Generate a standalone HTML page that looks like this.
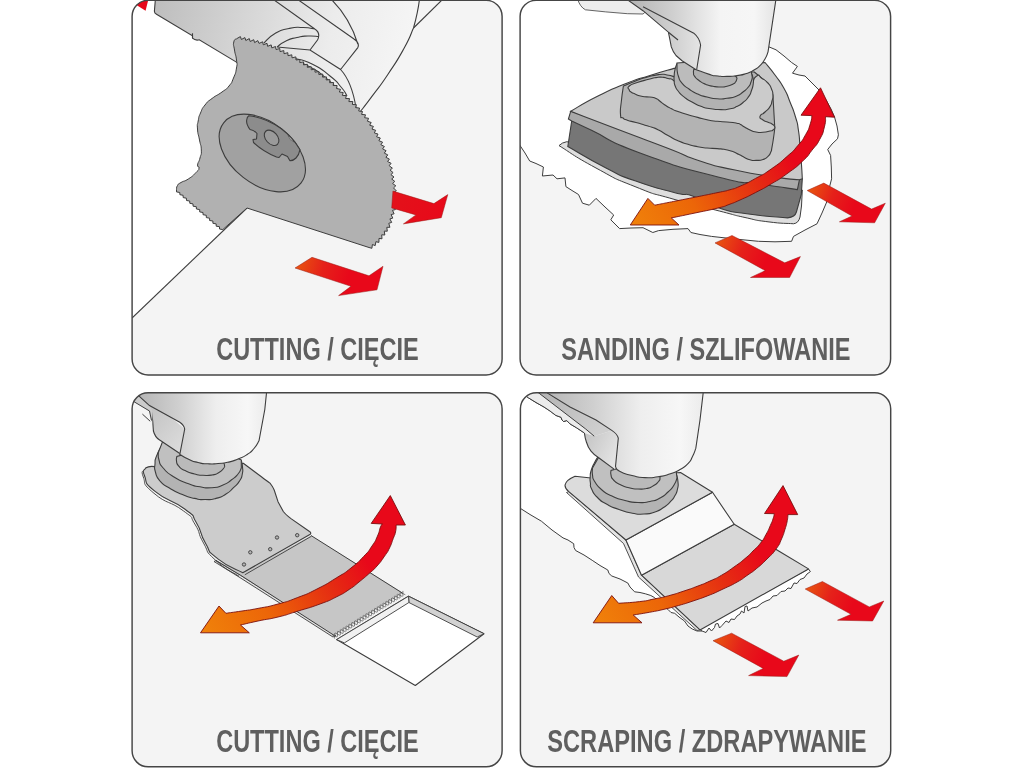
<!DOCTYPE html>
<html><head><meta charset="utf-8"><title>Multi-tool applications</title>
<style>
html,body{margin:0;padding:0;background:#fff;}
body{width:1024px;height:768px;overflow:hidden;font-family:"Liberation Sans",sans-serif;}
svg{display:block;will-change:transform;}
</style></head><body>
<svg width="1024" height="768" viewBox="0 0 1024 768">
<defs>
<clipPath id="cp1"><rect x="132.1" y="0.3" width="370.0" height="374.6" rx="16" ry="16"/></clipPath>
<clipPath id="cp2"><rect x="520.1" y="0.3" width="370.5" height="374.6" rx="16" ry="16"/></clipPath>
<clipPath id="cp3"><rect x="132.1" y="392.8" width="370.0" height="374.0" rx="16" ry="16"/></clipPath>
<clipPath id="cp4"><rect x="520.4" y="392.8" width="370.3" height="374.0" rx="16" ry="16"/></clipPath>
<linearGradient id="g1body" gradientUnits="userSpaceOnUse" x1="150" y1="0" x2="405" y2="60"><stop offset="0" stop-color="#bcbcbc"/><stop offset="0.35" stop-color="#d4d4d4"/><stop offset="0.7" stop-color="#ececec"/><stop offset="1" stop-color="#f5f5f5"/></linearGradient>
<linearGradient id="g1a" gradientUnits="userSpaceOnUse" x1="392" y1="195" x2="448" y2="215"><stop offset="0" stop-color="#e3121a"/><stop offset="1" stop-color="#e8081a"/></linearGradient>
<linearGradient id="g1b" gradientUnits="userSpaceOnUse" x1="297" y1="262" x2="383" y2="285"><stop offset="0" stop-color="#e8540f"/><stop offset="0.3" stop-color="#e5211a"/><stop offset="0.6" stop-color="#e8081a"/><stop offset="1" stop-color="#e8081a"/></linearGradient>
<linearGradient id="g2body" gradientUnits="userSpaceOnUse" x1="630" y1="0" x2="776" y2="0"><stop offset="0" stop-color="#b4b4b4"/><stop offset="0.3" stop-color="#d0d0d0"/><stop offset="0.62" stop-color="#f4f4f4"/><stop offset="0.85" stop-color="#f6f6f6"/><stop offset="1" stop-color="#e4e4e4"/></linearGradient>
<linearGradient id="g2c" gradientUnits="userSpaceOnUse" x1="630" y1="225" x2="820" y2="120"><stop offset="0" stop-color="#f0820a"/><stop offset="0.3" stop-color="#ec6608"/><stop offset="0.6" stop-color="#e52d12"/><stop offset="0.8" stop-color="#e8081a"/><stop offset="1" stop-color="#e8081a"/></linearGradient>
<linearGradient id="g2a" gradientUnits="userSpaceOnUse" x1="810" y1="186" x2="885" y2="215"><stop offset="0" stop-color="#e8540f"/><stop offset="0.3" stop-color="#e5211a"/><stop offset="0.6" stop-color="#e8081a"/><stop offset="1" stop-color="#e8081a"/></linearGradient>
<linearGradient id="g2b" gradientUnits="userSpaceOnUse" x1="718" y1="238" x2="800" y2="270"><stop offset="0" stop-color="#e8540f"/><stop offset="0.3" stop-color="#e5211a"/><stop offset="0.6" stop-color="#e8081a"/><stop offset="1" stop-color="#e8081a"/></linearGradient>
<linearGradient id="g3body" gradientUnits="userSpaceOnUse" x1="140" y1="0" x2="267" y2="0"><stop offset="0" stop-color="#b6b6b6"/><stop offset="0.3" stop-color="#cfcfcf"/><stop offset="0.6" stop-color="#eeeeee"/><stop offset="0.85" stop-color="#f7f7f7"/><stop offset="1" stop-color="#ebebeb"/></linearGradient>
<linearGradient id="g3lp" gradientUnits="userSpaceOnUse" x1="138" y1="400" x2="185" y2="440"><stop offset="0" stop-color="#bcbcbc"/><stop offset="1" stop-color="#dadada"/></linearGradient>
<linearGradient id="g3c" gradientUnits="userSpaceOnUse" x1="200" y1="630" x2="395" y2="520"><stop offset="0" stop-color="#f0820a"/><stop offset="0.3" stop-color="#ec6608"/><stop offset="0.6" stop-color="#e52d12"/><stop offset="0.8" stop-color="#e8081a"/><stop offset="1" stop-color="#e8081a"/></linearGradient>
<linearGradient id="g4arm" gradientUnits="userSpaceOnUse" x1="540" y1="393" x2="596" y2="436"><stop offset="0" stop-color="#b4b4b4"/><stop offset="1" stop-color="#cfcfcf"/></linearGradient>
<linearGradient id="g4lp" gradientUnits="userSpaceOnUse" x1="585" y1="440" x2="618" y2="455"><stop offset="0" stop-color="#c6c6c6"/><stop offset="1" stop-color="#e4e4e4"/></linearGradient>
<linearGradient id="g4body" gradientUnits="userSpaceOnUse" x1="545" y1="0" x2="704" y2="0"><stop offset="0" stop-color="#b6b6b6"/><stop offset="0.3" stop-color="#cfcfcf"/><stop offset="0.6" stop-color="#eeeeee"/><stop offset="0.85" stop-color="#f7f7f7"/><stop offset="1" stop-color="#ebebeb"/></linearGradient>
<linearGradient id="g4c" gradientUnits="userSpaceOnUse" x1="593" y1="622" x2="788" y2="510"><stop offset="0" stop-color="#f0820a"/><stop offset="0.3" stop-color="#ec6608"/><stop offset="0.6" stop-color="#e52d12"/><stop offset="0.8" stop-color="#e8081a"/><stop offset="1" stop-color="#e8081a"/></linearGradient>
<linearGradient id="g4a" gradientUnits="userSpaceOnUse" x1="808" y1="585" x2="884" y2="615"><stop offset="0" stop-color="#e8540f"/><stop offset="0.3" stop-color="#e5211a"/><stop offset="0.6" stop-color="#e8081a"/><stop offset="1" stop-color="#e8081a"/></linearGradient>
<linearGradient id="g4b" gradientUnits="userSpaceOnUse" x1="716" y1="637" x2="799" y2="668"><stop offset="0" stop-color="#e8540f"/><stop offset="0.3" stop-color="#e5211a"/><stop offset="0.6" stop-color="#e8081a"/><stop offset="1" stop-color="#e8081a"/></linearGradient>
</defs>
<rect width="1024" height="768" fill="#fff"/>
<g clip-path="url(#cp1)"><rect x="132.1" y="-1.7" width="370.0" height="376.6" fill="#fff"/>
<path d="M132.0,318.0 L247.0,208.0 L413.5,28.0 L419.0,-1.0 L503.0,-1.0 L503.0,376.0 L132.0,376.0 Z" fill="#f4f4f4"/>
<path d="M132,318 L247,208" stroke="#3d3d3d" stroke-width="1.1" fill="none"/>
<path d="M413.5,28 L443,-1" stroke="#3d3d3d" stroke-width="1.1" fill="none"/>
<path d="M155.4,-1 L154.4,11 Q154.3,13 156.5,14.3 L192.5,35.8 L192.5,38.2 Q195.5,41 199.3,39.8 L236.4,62.1 L300,120 L360,112 C364.2,106.6 363.2,108.3 372.5,95.7 C381.8,83.1 377.6,89.8 388.0,74.2 C398.4,58.6 395.2,64.2 403.8,48.8 C412.2,33.4 410.2,34.9 413.5,28.0 Q418,12 419.5,-1 Z" fill="url(#g1body)" stroke="#3d3d3d" stroke-width="1.1"/>
<path d="M192.5,33.2 L192.5,38.2" stroke="#3d3d3d" stroke-width="1.1" fill="none"/>
<path d="M272.7,-1 L314.8,29 Q321,33 317.5,40 L310,50 M297,-1 L354,39 Q360,43 357.8,47.6 L340.6,69.5 M331,-1 Q350,18 357.8,44 M264.0,43.0 C267.7,39.8 266.7,38.3 275.0,33.5 C283.3,28.7 279.7,30.5 289.0,28.5 C298.3,26.5 294.4,27.3 303.0,27.5 C311.6,27.7 310.9,28.5 314.8,29.0 M277.0,47.0 C280.0,45.0 279.3,44.2 286.0,41.0 C292.7,37.8 289.7,39.2 297.0,37.5 C304.3,35.8 300.8,36.3 308.0,36.0 C315.2,35.7 315.0,36.3 318.5,36.5 M277,47 L310,50 L340.6,69.5 Q352,82 356,108 M295.0,58.6 C300.7,60.4 300.3,58.2 312.0,64.0 C323.7,69.8 320.3,68.3 330.0,76.0 C339.7,83.7 335.3,80.3 341.0,87.0 C346.7,93.7 345.0,93.0 347.0,96.0 M292.0,60.5 C298.0,62.7 298.3,60.8 310.0,67.0 C321.7,73.2 317.7,71.3 327.0,79.0 C336.3,86.7 332.7,83.7 338.0,90.0 C343.3,96.3 341.3,95.3 343.0,98.0" fill="none" stroke="#3d3d3d" stroke-width="1.1"/>
<path d="M134,3.5 L148.5,-1 L145.6,10.7 Z" fill="#e8081a"/>
<path d="M237,38.5 L237.0,38.5 L240.4,36.6 L241.4,39.5 L244.9,37.6 L245.8,40.5 L249.3,38.6 L250.2,41.5 L253.7,39.7 L254.6,42.6 L257.8,40.6 L259.0,43.4 L262.7,41.8 L263.3,44.8 L267.0,43.3 L267.6,46.3 L271.2,44.9 L271.8,47.9 L275.5,46.5 L276.0,49.5 L279.8,48.5 L280.0,51.6 L283.8,50.6 L284.0,53.7 L287.8,52.7 L288.0,55.7 L291.8,54.8 L292.0,57.8 L295.9,56.9 L296.0,60.0 L299.9,59.4 L299.8,62.5 L303.6,61.9 L303.5,64.9 L307.4,64.3 L307.3,67.4 L311.2,66.7 L311.2,69.8 L315.0,69.1 L315.0,72.2 L318.9,71.5 L318.8,74.5 L322.8,74.1 L322.5,77.1 L326.5,76.9 L326.1,79.9 L330.0,79.7 L329.6,82.7 L333.6,82.5 L333.1,85.5 L337.1,85.5 L336.6,88.5 L340.6,89.4 L339.3,92.0 L343.2,92.5 L342.4,95.4 L346.3,95.6 L345.6,98.5 L349.5,98.6 L348.9,101.6 L352.8,101.5 L352.4,104.5 L356.4,104.7 L355.6,107.6 L359.6,108.1 L358.7,111.0 L362.5,111.5 L361.6,114.4 L365.5,114.8 L364.6,117.7 L368.6,118.3 L367.4,121.2 L371.2,122.5 L369.7,125.2 L373.4,126.4 L372.0,129.1 L375.7,130.3 L374.3,132.9 L378.0,134.1 L376.6,136.8 L380.3,138.0 L378.9,140.7 L382.6,142.2 L380.9,144.7 L384.4,146.5 L382.6,148.9 L386.1,150.7 L384.3,153.1 L387.8,154.9 L385.9,157.3 L389.4,159.1 L387.6,161.5 L391.1,163.3 L389.2,165.7 L392.4,168.2 L390.1,170.1 L393.1,172.6 L390.9,174.6 L394.0,177.0 L391.7,179.0 L394.8,181.4 L392.6,183.5 L395.8,185.8 L393.5,187.9 L396.3,190.8 L393.6,192.4 L396.2,195.4 L393.5,196.9 L396.1,199.8 L393.5,201.4 L396.1,204.3 L393.6,205.9 L395.4,209.6 L392.5,210.3 L394.1,213.8 L391.1,214.6 L392.8,218.1 L389.9,218.9 L391.7,222.4 L388.8,223.3 L389.9,227.3 L386.8,227.3 L387.3,231.2 L384.3,231.1 L384.8,235.0 L381.7,234.8 L382.0,238.8 L379.0,238.4 L378.9,242.4 L375.9,241.7 L375.2,245.6 L372.4,244.5 L371.9,248.3 L369.0,247.5 L247,208 L222.8,229.6 L222.8,229.6 L219.5,229.0 L219.5,226.7 L216.2,226.2 L216.2,223.9 L212.9,223.3 L212.9,221.0 L209.6,220.5 L209.6,218.2 L206.3,217.6 L206.3,215.3 L203.0,214.7 L203.0,212.5 L199.7,211.9 L199.7,209.6 L196.4,209.0 L196.3,206.7 L193.1,206.2 L193.0,203.9 L189.8,203.3 L189.7,201.0 L186.5,200.5 L186.4,198.2 L183.2,197.6 L183.1,195.3 L179.9,194.7 L179.8,192.5 L176.5,191.9 L176.5,189.6 C176.8,188.2 176.0,187.9 177.5,185.5 C179.0,183.1 177.3,184.7 181.0,182.5 C184.7,180.3 183.6,182.1 188.6,178.8 C193.6,175.5 192.5,176.1 196.0,172.5 C199.5,168.9 198.5,170.5 199.0,168.0 C199.5,165.5 197.3,168.3 197.6,165.0 C197.9,161.7 198.8,163.0 200.0,158.0 C201.2,153.0 201.5,156.0 201.3,150.0 C201.1,144.0 200.8,147.0 199.5,140.0 C198.2,133.0 197.9,135.3 197.5,129.0 C197.1,122.7 197.2,126.3 198.2,121.0 C199.2,115.7 198.2,118.3 200.5,113.0 C202.8,107.7 201.2,109.8 205.0,105.0 C208.8,100.2 206.3,102.8 212.0,98.5 C217.7,94.2 216.3,96.2 222.0,92.0 C227.7,87.8 225.2,90.7 229.0,86.0 C232.8,81.3 231.0,84.0 233.5,78.0 C236.0,72.0 235.5,74.0 236.5,68.0 C237.5,62.0 237.2,66.0 236.5,60.0 C235.8,54.0 235.4,56.0 234.5,50.0 C233.6,44.0 233.0,45.8 233.8,42.0 C234.6,38.2 235.9,39.7 237.0,38.5 Z" fill="#b1b1b1" stroke="#3d3d3d" stroke-width="1.0" stroke-linejoin="round"/>
<ellipse cx="262.3" cy="153" rx="49" ry="31" transform="rotate(38 262.3 153)" fill="#a1a1a1" stroke="#3d3d3d" stroke-width="1.1"/>
<path d="M248.8,115.8 Q264,117 281,128.5 Q293,137.5 300,149.7 Q299,155 296,158 Q293,161 289.8,160.6 L287.5,156.5 L282,154 L279,157.5 L276.5,157 Q263,151.5 253.5,142.5 L253,139.5 L256.5,139 L257,133.5 Q254,130 250,129.5 Q246,124 246.7,120 Q247,117 248.8,115.8 Z" fill="#8c8c8c" stroke="#3d3d3d" stroke-width="1.1" stroke-linejoin="round"/>
<ellipse cx="271.6" cy="137.8" rx="8.8" ry="5.9" transform="rotate(48 271.6 137.8)" fill="#9a9a9a" stroke="#3d3d3d" stroke-width="1.1"/>
<path d="M288,135.5 Q291,137.5 294,142 Q289,140 288,135.5 Z" fill="#b9b9b9" stroke="#3d3d3d" stroke-width="0.5"/>
<path d="M392.9,191.1 L433.9,203.6 L447.8,194.6 L441.3,217.7 L403.4,223.9 L415.9,214.9 L391.7,207.9 Z" fill="url(#g1a)" stroke="#9a1a16" stroke-width="0.5"/>
<path d="M312.0,257.3 L369.0,275.8 L383.0,266.3 L377.0,289.8 L338.6,295.6 L351.0,286.3 L295.0,268.0 Z" fill="url(#g1b)" stroke="#9a1a16" stroke-width="0.5"/>
<text x="216.15" y="360.0" font-family="Liberation Sans, sans-serif" font-weight="bold" font-size="30.8" fill="#5f5f5f" textLength="202.60" lengthAdjust="spacingAndGlyphs">CUTTING / CIĘCIE</text></g>
<rect x="132.1" y="0.3" width="370.0" height="374.6" rx="16" ry="16" fill="none" stroke="#454545" stroke-width="1.45"/>
<g clip-path="url(#cp2)"><rect x="520.1" y="-1.7" width="370.5" height="376.6" fill="#f4f4f4"/>
<path d="M519,-2 L776,-2 L769.0,46.9 L776.0,49.8 L784.0,56.0 L791.6,62.5 L797.4,66.4 L792.5,73.2 L799.0,75.0 L805.0,76.0 L810.0,81.0 L815.0,86.0 L819.0,90.0 L826.0,100.0 L831.0,109.0 L834.5,117.0 L837.0,126.0 L838.4,134.8 L837.5,138.8 L832.0,144.0 L827.7,149.5 L830.6,155.4 L831.3,167.0 L831.6,178.8 L829.6,186.6 L826.7,202.0 L822.0,213.0 L817.0,223.8 L805.0,230.0 L793.5,236.4 L791.6,241.3 L775.0,241.8 L758.4,241.3 L735.0,239.0 L711.5,236.4 L700.0,234.5 L690.9,232.5 L688.0,228.6 L673.0,229.3 L658.6,230.6 L652.8,232.5 L643.0,227.7 L631.0,228.0 L619.6,228.6 L610.8,219.8 L613.7,215.0 L605.0,207.0 L596.0,198.4 L589.3,205.2 L582.5,203.2 L578.5,194.5 L572.0,190.5 L565.9,186.6 L565.0,177.9 L557.0,178.8 L553.0,175.0 L542.4,176.0 L543.4,167.0 L536.0,163.5 L529.7,161.0 L525.0,153.0 L519.0,144.0 Z" fill="#fff"/>
<path d="M769.0,46.9 L776.0,49.8 L784.0,56.0 L791.6,62.5 L797.4,66.4 L792.5,73.2 L799.0,75.0 L805.0,76.0 L810.0,81.0 L815.0,86.0 L819.0,90.0 L826.0,100.0 L831.0,109.0 L834.5,117.0 L837.0,126.0 L838.4,134.8 L837.5,138.8 L832.0,144.0 L827.7,149.5 L830.6,155.4 L831.3,167.0 L831.6,178.8 L829.6,186.6 L826.7,202.0 L822.0,213.0 L817.0,223.8 L805.0,230.0 L793.5,236.4 L791.6,241.3 L775.0,241.8 L758.4,241.3 L735.0,239.0 L711.5,236.4 L700.0,234.5 L690.9,232.5 L688.0,228.6 L673.0,229.3 L658.6,230.6 L652.8,232.5 L643.0,227.7 L631.0,228.0 L619.6,228.6 L610.8,219.8 L613.7,215.0 L605.0,207.0 L596.0,198.4 L589.3,205.2 L582.5,203.2 L578.5,194.5 L572.0,190.5 L565.9,186.6 L565.0,177.9 L557.0,178.8 L553.0,175.0 L542.4,176.0 L543.4,167.0 L536.0,163.5 L529.7,161.0 L525.0,153.0 L519.0,144.0" fill="none" stroke="#3d3d3d" stroke-width="1.0" stroke-linejoin="round"/>
<path d="M559,145.6 Q562,142.5 566.8,141.7 L700,170 L802.3,190 L801.5,206 L800,217 Q798.5,223.3 793.5,223.75 C785.0,223.1 784.2,223.9 768.0,221.8 C751.8,219.7 761.2,221.1 745.0,217.5 C728.8,213.9 743.0,217.1 719.3,211.0 C695.6,204.9 702.1,207.4 674.0,199.3 C645.9,191.2 661.0,197.0 635.0,186.6 C609.0,176.2 621.3,181.7 596.0,168.0 C570.7,154.3 571.3,153.1 559.0,145.6 Z" fill="#dedede" stroke="#3d3d3d" stroke-width="1.0"/>
<path d="M571.7,121 L567.8,146.6 C580.5,153.7 583.6,156.6 606.0,168.0 C628.4,179.4 612.3,172.6 635.0,180.8 C657.7,189.0 654.4,187.3 674.0,192.5 C693.6,197.7 678.7,191.2 693.8,196.4 C708.9,201.6 701.0,202.1 719.3,208.0 C737.6,213.9 725.8,210.7 748.6,214.0 C771.4,217.3 774.7,216.6 787.7,217.9 Q795,217 796.4,212 L801.3,194.5 L802.3,178.8 L700,150 Z" fill="#767676" stroke="#3d3d3d" stroke-width="1.1"/>
<path d="M568.4,119 L571.7,121 C578.5,124.2 569.2,119.8 592.0,130.5 C614.8,141.2 598.0,137.5 640.0,153.0 C682.0,168.5 678.0,166.7 718.0,177.0 C758.0,187.3 733.5,179.8 760.0,184.0 C786.5,188.2 784.9,187.7 797.4,189.6 L799.4,179.8 L760,160 L570.7,111.3 Z" fill="#a9a9a9" stroke="#3d3d3d" stroke-width="1.1"/>
<path d="M570.7,111.3 C579.8,106.2 579.1,105.4 598.0,96.0 C616.9,86.6 610.1,89.8 627.4,83.0 C644.7,76.2 634.5,80.4 650.0,75.5 C665.5,70.6 666.0,70.8 674.0,68.4 L765,62.5 C768.3,66.7 768.8,66.5 775.0,75.0 C781.2,83.5 778.8,79.0 783.8,88.0 C788.8,97.0 786.1,92.3 790.0,102.0 C793.9,111.7 792.7,107.7 795.5,117.0 C798.3,126.3 796.9,120.2 798.4,130.0 C799.9,139.8 799.0,134.8 800.0,146.5 C801.0,158.2 800.7,154.2 801.5,165.0 C802.3,175.8 802.0,174.2 802.3,178.8 L799.4,179.8 C790.9,178.8 795.5,180.2 774.0,176.9 C752.5,173.6 759.7,175.3 735.0,170.0 C710.3,164.7 722.2,168.2 700.0,161.0 C677.8,153.8 695.2,158.7 668.4,148.4 C641.6,138.1 652.1,142.4 619.5,130.0 C586.9,117.6 587.0,117.5 570.7,111.3 Z" fill="#c9c9c9" stroke="#3d3d3d" stroke-width="1.1"/>
<path d="M623.4,86.0 C622.8,90.7 622.5,90.5 621.5,100.0 C620.5,109.5 620.0,108.5 620.5,114.5 C621.0,120.5 620.7,116.1 623.0,118.0 C625.3,119.9 623.0,118.8 627.3,120.3 C631.6,121.8 630.1,120.9 636.0,122.5 C641.9,124.1 639.7,123.6 645.0,125.2 C650.3,126.8 647.5,125.7 652.0,127.3 C656.5,128.9 653.3,127.3 658.6,130.0 C663.9,132.7 661.5,131.9 668.0,135.5 C674.5,139.1 671.3,137.9 678.0,140.8 C684.7,143.7 681.4,142.3 688.0,144.3 C694.6,146.3 691.4,145.5 697.7,146.7 C704.0,147.9 700.5,147.4 707.0,148.0 C713.5,148.6 711.2,148.1 717.2,148.6 C723.2,149.1 719.8,148.5 725.0,149.5 C730.2,150.5 728.1,149.9 732.8,151.6 C737.5,153.3 735.1,152.6 739.0,154.5 C742.9,156.4 740.8,155.6 744.5,157.4 C748.2,159.2 746.1,158.8 750.0,159.8 C753.9,160.8 751.9,160.5 756.2,160.4 C760.6,160.3 759.1,160.8 763.0,159.5 C766.9,158.2 765.4,158.9 768.0,156.4 C770.6,153.9 769.5,154.9 770.8,152.0 C772.1,149.1 771.0,152.4 771.9,147.7 C772.8,143.0 772.5,144.6 773.5,138.0 C774.5,131.4 774.4,131.3 774.8,128.0 L772.9,95 L768,83.2 L754.3,72 L676,72 L675.0,77.0 C672.3,76.3 672.5,75.8 667.0,75.0 C661.5,74.2 665.6,73.8 658.6,74.6 C651.6,75.4 653.9,75.3 646.0,77.5 C638.1,79.7 642.5,78.4 635.0,81.2 C627.5,84.1 627.3,84.4 623.4,86.0 Z" fill="#b3b3b3" stroke="#3d3d3d" stroke-width="1.1" stroke-linejoin="round"/>
<path d="M629.3,86.0 C632.2,83.4 631.5,84.5 638.0,82.3 C644.5,80.1 642.8,80.9 648.8,79.3 C654.8,77.7 651.4,78.3 656.0,77.6 C660.6,76.9 658.5,77.0 662.5,77.3 C666.5,77.6 664.1,77.3 668.0,78.5 C671.9,79.7 669.5,77.2 674.2,81.0 C678.9,84.8 673.4,84.3 682.0,90.0 C690.6,95.7 684.0,95.3 700.0,98.0 C716.0,100.7 714.0,101.3 730.0,98.0 C746.0,94.7 739.3,95.2 748.0,88.0 C756.7,80.8 751.3,79.7 756.0,76.5 C760.7,73.3 758.0,76.3 762.0,78.5 C766.0,80.7 764.8,79.7 768.0,83.2 C771.2,86.7 769.9,85.1 771.5,89.0 C773.1,92.9 772.7,91.0 772.9,95.0 C773.1,99.0 773.0,97.1 772.0,101.0 C771.0,104.9 772.3,102.9 770.0,106.6 C767.7,110.3 768.3,108.7 765.0,112.0 C761.7,115.3 760.7,113.7 760.0,116.4 C759.3,119.1 760.3,118.0 763.0,120.0 C765.7,122.0 765.0,121.0 768.0,122.3 C771.0,123.6 769.7,122.4 772.0,124.0 C774.3,125.6 774.5,125.0 774.8,127.0 C775.1,129.0 774.6,128.7 773.0,130.0 C771.4,131.3 773.3,130.2 770.0,131.0 C766.7,131.8 767.7,132.0 763.0,132.3 C758.3,132.6 760.3,132.8 756.0,132.0 C751.7,131.2 753.8,131.7 750.0,130.0 C746.2,128.3 747.7,128.8 744.5,127.0 C741.3,125.2 743.1,125.8 740.5,124.5 C737.9,123.2 741.2,124.0 736.7,123.2 C732.2,122.4 733.5,122.6 727.0,122.0 C720.5,121.4 723.9,122.0 717.2,121.3 C710.5,120.6 713.5,121.1 707.0,119.8 C700.5,118.5 704.0,119.1 697.7,117.4 C691.4,115.7 694.6,116.8 688.0,114.8 C681.4,112.8 683.7,113.6 678.0,111.5 C672.3,109.4 675.5,110.8 671.0,108.5 C666.5,106.2 668.2,107.1 664.5,104.7 C660.8,102.3 662.6,103.3 660.0,101.3 C657.4,99.3 659.3,100.1 656.6,98.8 C653.9,97.5 655.2,97.9 652.0,97.3 C648.8,96.7 650.7,97.3 646.9,96.9 C643.1,96.5 644.5,97.0 640.5,96.0 C636.5,95.0 638.2,95.3 635.0,94.0 C631.8,92.7 632.9,93.3 631.0,92.0 C629.1,90.7 629.9,92.0 629.3,90.0 C628.7,88.0 626.4,88.6 629.3,86.0 Z" fill="#cbcbcb" stroke="#3d3d3d" stroke-width="1.1" stroke-linejoin="round"/>
<path d="M677.0,63.7 C676.3,65.6 675.9,65.6 675.0,69.5 C674.1,73.4 674.5,71.6 674.2,75.4 C673.9,79.2 673.9,77.5 674.2,81.0 C674.5,84.5 673.8,82.5 675.2,86.0 C676.6,89.5 675.6,87.9 678.5,91.5 C681.4,95.1 679.5,93.4 684.0,96.9 C688.5,100.4 686.1,98.8 692.0,102.0 C697.9,105.2 695.3,104.3 701.6,106.6 C707.9,108.9 704.5,107.8 711.0,108.8 C717.5,109.8 715.0,109.5 721.0,109.6 C727.0,109.7 723.8,110.0 729.0,109.0 C734.2,108.0 732.0,108.8 736.7,106.6 C741.4,104.4 739.1,105.7 743.0,102.5 C746.9,99.3 745.6,100.9 748.4,96.9 C751.2,92.9 749.9,95.1 751.5,90.5 C753.1,85.9 752.8,87.4 753.3,83.2 C753.8,79.0 753.6,81.3 753.0,78.0 C752.4,74.7 751.9,74.9 751.4,73.4 L735,62 Z" fill="#b2b2b2" stroke="#3d3d3d" stroke-width="1.1"/>
<path d="M677.0,69.5 C677.5,71.8 676.8,71.9 678.5,76.5 C680.2,81.1 678.5,79.0 682.0,83.2 C685.5,87.4 683.8,85.4 689.0,89.0 C694.2,92.6 691.7,91.3 697.7,94.0 C703.7,96.7 700.5,95.4 707.0,97.0 C713.5,98.6 710.5,98.4 717.2,98.8 C723.9,99.2 720.5,99.2 727.0,98.3 C733.5,97.4 731.4,98.1 736.7,96.0 C742.0,93.9 739.1,95.0 743.0,92.0 C746.9,89.0 745.7,90.3 748.4,87.0 C751.1,83.7 749.7,85.2 751.0,82.0 C752.3,78.8 751.9,78.9 752.3,77.3 L751,70 L720,60 L677,63 Z" fill="#bcbcbc" stroke="#3d3d3d" stroke-width="1.1"/>
<path d="M693.8,69.5 C693.7,70.7 693.2,70.7 693.5,73.0 C693.8,75.3 692.9,73.9 694.7,76.4 C696.5,78.9 695.4,77.9 699.0,80.5 C702.6,83.1 700.8,82.3 705.5,84.2 C710.2,86.1 707.8,85.4 713.0,86.3 C718.2,87.2 716.3,87.0 721.0,87.0 C725.7,87.0 723.1,87.2 727.0,86.3 C730.9,85.4 730.0,85.6 732.8,84.2 C735.6,82.8 734.2,83.6 735.5,82.0 C736.8,80.4 736.3,80.7 736.7,79.3 C737.1,77.9 737.1,78.8 736.8,77.8 C736.5,76.8 736.1,76.9 735.7,76.4 L720,66 Z" fill="#b0b0b0" stroke="#3d3d3d" stroke-width="1.1"/>
<path d="M577.6,-1 Q580,7 585.4,9.8 Q605,12 627.4,13.7 L643,14 L660,-1 Z" fill="#ededed" stroke="#3d3d3d" stroke-width="0.8"/>
<path d="M626.4,-1 L643,10.7 L668.4,32.2 Q670,40 671.3,46.9 Q673,52 676,55.5 L682,60.7 L695.7,69.5 C700.3,71.1 702.0,72.2 709.4,74.4 C716.8,76.6 712.1,75.3 718.0,76.0 C723.9,76.7 720.7,76.5 727.0,76.4 C733.3,76.3 730.5,76.6 737.0,75.6 C743.5,74.6 740.8,75.3 746.5,73.4 C752.2,71.5 749.5,72.6 754.0,70.0 C758.5,67.4 756.3,69.3 760.0,65.6 C763.7,61.9 762.3,63.5 765.0,59.0 C767.7,54.5 767.0,54.3 768.0,52.0 L776,-1 Z" fill="url(#g2body)" stroke="#3d3d3d" stroke-width="1.1"/>
<path d="M643,6.8 L693.8,33.2 Q699.5,38 700.6,45 L696.7,69.5" fill="none" stroke="#3d3d3d" stroke-width="1.1"/>
<path d="M668.4,32.2 L678,40" fill="none" stroke="#3d3d3d" stroke-width="1.1"/>
<path d="M630.3,225 L647.9,198.4 L654.7,205.2 C665.1,203.1 664.9,203.2 686.0,199.0 C707.1,194.8 703.7,195.5 718.0,192.5 C732.3,189.5 721.7,192.1 729.0,190.0 C736.3,187.9 731.1,190.1 740.0,186.2 C748.9,182.4 745.2,184.2 755.6,178.4 C766.0,172.7 760.8,176.3 771.2,169.0 C781.7,161.7 778.0,164.4 786.9,156.6 C795.8,148.8 791.6,152.9 797.8,145.6 C804.0,138.3 801.4,142.0 805.6,134.7 C809.8,127.4 808.2,130.1 810.3,123.8 C812.4,117.4 811.4,118.3 811.9,115.6 L801,115.2 L820.5,87.8 L834.5,117.2 L825.6,116.7 C825.2,120.1 826.4,119.3 824.4,126.9 C822.4,134.5 823.9,131.6 819.7,139.4 C815.5,147.2 817.6,143.0 811.9,150.3 C806.2,157.6 810.8,153.4 802.5,161.2 C794.2,169.1 797.3,166.2 786.9,173.8 C776.5,181.3 781.7,177.7 771.2,183.9 C760.8,190.2 766.0,187.1 755.6,192.5 C745.2,197.9 748.9,196.0 740.0,200.0 C731.1,204.0 736.3,201.8 729.0,204.5 C721.7,207.2 729.3,205.2 718.0,208.0 C706.7,210.8 710.6,209.7 695.0,213.0 C679.4,216.3 679.2,216.3 671.3,217.9 L679,225 Z" fill="url(#g2c)" stroke="#7a1010" stroke-width="0.9" stroke-linejoin="miter"/>
<path d="M823.8,183.1 L871.6,209.1 L885.3,203.2 L874.6,222.8 L839.4,221.8 L852.0,216.0 L807.2,190.5 Z" fill="url(#g2a)" stroke="#9a1a16" stroke-width="0.5"/>
<path d="M732.0,235.5 L784.7,262.8 L800.4,256.6 L789.6,277.5 L750.5,277.5 L765.2,270.6 L715.0,242.9 Z" fill="url(#g2b)" stroke="#9a1a16" stroke-width="0.5"/>
<text x="561.25" y="360.0" font-family="Liberation Sans, sans-serif" font-weight="bold" font-size="30.8" fill="#5f5f5f" textLength="289.25" lengthAdjust="spacingAndGlyphs">SANDING / SZLIFOWANIE</text></g>
<rect x="520.1" y="0.3" width="370.5" height="374.6" rx="16" ry="16" fill="none" stroke="#454545" stroke-width="1.45"/>
<g clip-path="url(#cp3)"><rect x="132.1" y="390.8" width="370.0" height="376.0" fill="#f4f4f4"/>
<path d="M408.5,596.2 L484,633.7 L415.3,685.5 L336.6,639.6 Z" fill="#fff" stroke="#3d3d3d" stroke-width="1.1" stroke-linejoin="round"/>
<path d="M408.5,596.2 L484,633.7 L477.2,637 L408.9,602.5 Z" fill="#d2d2d2" stroke="#3d3d3d" stroke-width="0.9" stroke-linejoin="round"/>
<path d="M408.5,596.2 L408.9,602.5 L344.4,642.9 L336.6,639.6 Z" fill="#f1f1f1" stroke="#3d3d3d" stroke-width="0.9" stroke-linejoin="round"/>
<path d="M214,561.5 L239,577 L333,637 L336,635.5 L240.5,575.2 L216,560.5 Z" fill="#e2e2e2" stroke="#3d3d3d" stroke-width="0.9"/>
<path d="M216,560.5 L240.5,575.2 L334.3,635.5 L402.6,593.2 L402,592.3 L311,535.5 L242.8,572.8 Z" fill="#c6c6c6"/>
<path d="M334.3,635.5 L240.5,575.2 L216,560.5 M402.6,593.2 L311,535.5" fill="none" stroke="#3d3d3d" stroke-width="1.0" stroke-linejoin="round"/>
<path d="M332.5,634.9 L336.7,636.9 M334.6,638.2 L334.6,633.6 M335.4,633.1 L339.5,635.2 M337.4,636.4 L337.5,631.8 M338.2,631.4 L342.4,633.4 M340.3,634.7 L340.3,630.1 M341.1,629.6 L345.2,631.6 M343.1,632.9 L343.1,628.3 M343.9,627.8 L348.0,629.9 M346.0,631.1 L346.0,626.6 M346.8,626.1 L350.9,628.1 M348.8,629.4 L348.8,624.8 M349.6,624.3 L353.7,626.3 M351.7,627.6 L351.7,623.0 M352.5,622.5 L356.6,624.6 M354.5,625.9 L354.5,621.3 M355.3,620.8 L359.4,622.8 M357.4,624.1 L357.4,619.5 M358.1,619.0 L362.3,621.1 M360.2,622.3 L360.2,617.7 M361.0,617.3 L365.1,619.3 M363.0,620.6 L363.1,616.0 M363.8,615.5 L368.0,617.5 M365.9,618.8 L365.9,614.2 M366.7,613.7 L370.8,615.8 M368.7,617.0 L368.8,612.5 M369.5,612.0 L373.7,614.0 M371.6,615.3 L371.6,610.7 M372.4,610.2 L376.5,612.2 M374.4,613.5 L374.5,608.9 M375.2,608.4 L379.4,610.5 M377.3,611.8 L377.3,607.2 M378.1,606.7 L382.2,608.7 M380.1,610.0 L380.1,605.4 M380.9,604.9 L385.0,607.0 M383.0,608.2 L383.0,603.6 M383.8,603.2 L387.9,605.2 M385.8,606.5 L385.8,601.9 M386.6,601.4 L390.7,603.4 M388.7,604.7 L388.7,600.1 M389.5,599.6 L393.6,601.7 M391.5,602.9 L391.5,598.4 M392.3,597.9 L396.4,599.9 M394.4,601.2 L394.4,596.6 M395.1,596.1 L399.3,598.1 M397.2,599.4 L397.2,594.8 M398.0,594.3 L402.1,596.4 M400.0,597.7 L400.1,593.1 M400.8,592.6 L405.0,594.6 M402.9,595.9 L402.9,591.3" fill="none" stroke="#444" stroke-width="0.65" stroke-linecap="round"/>
<path d="M144.6,469.5 C144.2,472.0 140.2,469.1 143.3,477.0 C146.4,484.9 140.7,482.0 154.0,493.3 C167.3,504.6 169.7,500.6 183.3,510.8 C196.9,521.0 188.1,513.3 194.8,524.0 C201.5,534.7 196.7,531.0 203.5,543.0 C210.3,555.0 203.5,548.9 215.3,560.0 C227.1,571.1 231.1,570.9 239.0,576.3" fill="none" stroke="#3d3d3d" stroke-width="0.9"/>
<path d="M145.6,468 C145.3,470.7 141.3,468.1 144.6,476.0 C147.9,483.9 142.0,480.6 155.4,491.6 C168.8,502.6 171.0,498.6 184.7,509.0 C198.4,519.4 189.5,511.5 196.4,522.8 C203.3,534.1 198.4,531.1 205.4,543.0 C212.4,554.9 205.0,548.7 217.5,558.6 C230.0,568.5 234.4,568.1 242.8,572.8 L310.3,534.2 Q311.5,532.8 309.5,531.5 L291,518.6 Q285.5,514.5 283.3,511.5 L278,501.7 L274.2,490 C273.1,488.2 273.5,487.6 271.0,484.5 C268.5,481.4 272.0,485.0 266.7,480.8 C261.4,476.6 262.8,477.9 255.0,472.0 C247.2,466.1 247.2,466.1 243.3,463.2 L200,475 L157,467 Q149.5,465.3 145.6,468 Z" fill="#cccccc" stroke="#3d3d3d" stroke-width="1.1" stroke-linejoin="round"/>
<path d="M244.8,574.8 L311.3,536.3" fill="none" stroke="#3d3d3d" stroke-width="0.9"/>
<circle cx="244.0" cy="564.5" r="1.7" fill="#b5b5b5" stroke="#3d3d3d" stroke-width="0.9"/>
<circle cx="250.3" cy="552.3" r="1.7" fill="#b5b5b5" stroke="#3d3d3d" stroke-width="0.9"/>
<circle cx="270.2" cy="549.2" r="1.7" fill="#b5b5b5" stroke="#3d3d3d" stroke-width="0.9"/>
<circle cx="277.0" cy="537.5" r="1.7" fill="#b5b5b5" stroke="#3d3d3d" stroke-width="0.9"/>
<circle cx="297.2" cy="535.2" r="1.7" fill="#b5b5b5" stroke="#3d3d3d" stroke-width="0.9"/>
<path d="M161.2,446.6 C159.6,449.9 158.5,450.6 156.4,456.4 C154.3,462.2 155.3,458.8 155.0,464.0 C154.7,469.2 153.7,466.3 155.4,472.0 C157.1,477.7 155.5,475.8 160.0,481.0 C164.5,486.2 162.0,483.4 169.0,487.7 C176.0,492.0 172.5,490.4 181.0,494.0 C189.5,497.6 186.5,496.6 194.5,498.4 C202.5,500.2 197.8,499.5 205.0,499.5 C212.2,499.5 209.0,500.2 216.0,498.4 C223.0,496.6 220.2,497.6 226.0,494.0 C231.8,490.4 229.0,492.0 233.5,487.7 C238.0,483.4 236.6,485.6 239.5,481.0 C242.4,476.4 241.3,478.7 242.3,474.0 C243.3,469.3 242.8,471.6 242.5,467.0 C242.2,462.4 241.7,462.5 241.3,460.3 L200,440 L165,436 Z" fill="#b3b3b3" stroke="#3d3d3d" stroke-width="1.1"/>
<path d="M158.3,452.5 C158.5,455.0 157.4,454.8 159.0,460.0 C160.6,465.2 158.2,462.3 163.2,468.0 C168.2,473.7 165.5,471.8 174.0,477.0 C182.5,482.2 179.9,480.5 188.6,483.8 C197.3,487.0 192.2,485.5 200.0,486.8 C207.8,488.1 204.3,488.3 212.0,487.7 C219.7,487.1 216.5,487.6 223.0,485.0 C229.5,482.4 226.6,483.5 231.6,479.8 C236.6,476.1 234.8,477.9 238.0,474.0 C241.2,470.1 240.2,470.0 241.3,468.0 L241.3,460 L200,440 L164,438 Z" fill="#c0c0c0" stroke="#3d3d3d" stroke-width="1.1"/>
<path d="M176.9,456.4 C176.8,457.9 175.9,457.7 176.5,461.0 C177.1,464.3 176.0,463.0 178.8,466.2 C181.6,469.4 179.8,467.9 185.0,470.5 C190.2,473.1 188.5,472.4 194.5,474.0 C200.5,475.6 197.2,475.0 203.0,475.3 C208.8,475.6 206.7,475.9 212.0,475.0 C217.3,474.1 215.1,474.8 219.0,472.5 C222.9,470.2 221.9,470.3 223.8,468.0 C225.6,465.7 224.5,467.1 224.5,465.5 C224.5,463.9 224.0,464.0 223.8,463.2 L200,450 Z" fill="#bababa" stroke="#3d3d3d" stroke-width="1.1"/>
<path d="M134,392 L138.8,397.8 L151.5,411.5 Q153,421 153.4,431 Q155,437 159.3,439.8 L179.8,453.5 L186,430 L150,400 Z" fill="url(#g3lp)"/>
<path d="M138.8,397.8 L151.5,411.5 Q153,421 153.4,431 Q155,437 159.3,439.8 L179.8,453.5" fill="none" stroke="#3d3d3d" stroke-width="1.1"/>
<path d="M131,391 L138.8,395.9 L149.5,405.6 L152.5,411 L152.2,424 L151.5,420.5 L149.5,411 L134.5,402 L131,400 Z" fill="#cbcbcb"/>
<path d="M132,400.5 L134.5,402 L149.5,411 L151.5,420.5 M142.4,414.1 L150.2,421.25" fill="none" stroke="#3d3d3d" stroke-width="1.0"/>
<path d="M138.8,395.9 L149.5,405.6 L179.8,422.2 Q184,425 184.7,429 L179.8,454.5 C182.7,456.1 182.5,456.6 188.6,459.3 C194.7,462.0 191.5,461.0 198.0,462.5 C204.5,464.0 201.3,463.5 208.0,463.8 C214.7,464.1 211.4,464.0 218.0,463.5 C224.6,463.0 221.0,463.8 227.7,462.3 C234.4,460.8 231.5,461.6 238.0,459.0 C244.5,456.4 241.9,458.0 247.2,454.5 C252.5,451.0 250.1,453.1 254.0,448.5 C257.9,443.9 257.3,443.4 259.0,440.8 L264.8,409.5 L266.7,391 L138,391 Z" fill="url(#g3body)" stroke="#3d3d3d" stroke-width="1.1"/>
<path d="M200.5,632.8 L219,606 L225.9,613.3 C231.3,612.5 231.3,612.6 242.0,611.0 C252.7,609.4 246.0,610.7 258.0,608.4 C270.0,606.1 264.9,607.6 278.0,604.0 C291.1,600.4 284.2,602.7 297.2,597.7 C310.2,592.7 304.0,595.6 317.0,589.0 C330.0,582.4 324.9,585.0 336.2,578.0 C347.6,571.0 341.9,575.2 351.0,568.0 C360.1,560.8 356.6,563.8 363.6,556.5 C370.6,549.2 367.4,552.8 372.0,546.0 C376.6,539.2 374.7,542.3 377.5,536.0 C380.3,529.7 378.8,531.0 380.5,527.0 C382.2,523.0 381.8,525.0 382.5,524.0 L371.2,523.4 L390.3,495.6 L405.4,525 L396.2,525 C396.0,527.3 396.5,527.5 395.5,532.0 C394.5,536.5 395.2,533.3 393.2,538.6 C391.2,543.9 392.4,542.1 389.5,548.0 C386.6,553.9 388.7,550.2 384.5,556.2 C380.3,562.2 382.2,560.1 377.0,566.0 C371.8,571.9 374.8,568.4 368.8,573.8 C362.8,579.1 365.5,576.8 359.0,582.0 C352.5,587.2 356.9,584.4 349.3,589.4 C341.7,594.4 346.0,592.1 336.2,597.0 C326.5,601.9 333.0,599.2 320.0,604.0 C307.0,608.8 311.2,607.0 297.2,611.3 C283.2,615.6 291.1,613.8 278.0,617.0 C264.9,620.2 270.5,618.3 258.0,621.0 C245.5,623.7 246.3,623.7 240.5,625.0 L249.3,632.8 Z" fill="url(#g3c)" stroke="#7a1010" stroke-width="0.9"/>
<text x="216.15" y="752.0" font-family="Liberation Sans, sans-serif" font-weight="bold" font-size="30.8" fill="#5f5f5f" textLength="202.60" lengthAdjust="spacingAndGlyphs">CUTTING / CIĘCIE</text></g>
<rect x="132.1" y="392.8" width="370.0" height="374.0" rx="16" ry="16" fill="none" stroke="#454545" stroke-width="1.45"/>
<g clip-path="url(#cp4)"><rect x="520.4" y="390.8" width="370.3" height="376.0" fill="#f4f4f4"/>
<path d="M519,396 L526.0,396.0 L528.4,397.8 L536.0,402.5 L544.0,407.0 L550.0,411.0 L555.8,415.4 L561.0,417.3 L562.0,420.0 L563.5,421.5 L566.8,420.6 L570.0,423.9 L576.6,427.8 L584.4,433.0 L620,452 L680,482 L720,512 L760,546 L805,571 L811,572 L702,632 L702.0,631.0 L697.0,631.0 L692.3,629.0 L688.0,626.0 L684.5,621.0 L679.0,617.0 L674.7,613.3 L671.0,612.5 L667.9,609.4 L661.0,604.0 L654.7,597.7 L650.8,595.5 L645.4,593.8 L640.0,592.5 L634.6,591.8 L630.0,587.0 L627.8,583.0 L620.0,579.0 L611.8,576.0 L609.0,573.5 L607.8,570.0 L600.0,565.5 L592.2,560.3 L584.0,555.0 L575.6,550.5 L574.0,547.5 L573.7,543.7 L568.0,540.0 L563.0,537.9 L552.0,530.0 L541.4,521.2 L530.0,514.5 L519.0,507.5 Z" fill="#fff"/>
<path d="M526.0,396.0 L528.4,397.8 L536.0,402.5 L544.0,407.0 L550.0,411.0 L555.8,415.4 L561.0,417.3 L562.0,420.0 L563.5,421.5 L566.8,420.6 L570.0,423.9 L576.6,427.8 L584.4,433.0" fill="none" stroke="#3d3d3d" stroke-width="1.0" stroke-linejoin="round"/>
<path d="M519.0,507.5 L530.0,514.5 L541.4,521.2 L552.0,530.0 L563.0,537.9 L568.0,540.0 L573.7,543.7 L574.0,547.5 L575.6,550.5 L584.0,555.0 L592.2,560.3 L600.0,565.5 L607.8,570.0 L609.0,573.5 L611.8,576.0 L620.0,579.0 L627.8,583.0 L630.0,587.0 L634.6,591.8 L640.0,592.5 L645.4,593.8 L650.8,595.5 L654.7,597.7 L661.0,604.0 L667.9,609.4 L671.0,612.5 L674.7,613.3 L679.0,617.0 L684.5,621.0 L688.0,626.0 L692.3,629.0 L697.0,631.0 L702.0,631.0" fill="none" stroke="#3d3d3d" stroke-width="1.0" stroke-linejoin="round"/>
<path d="M698.8,628.4 L702.0,631.0 L706.0,632.5 L709.0,628.0 L711.5,631.0 L714.5,627.5 L715.5,624.0 L718.0,623.5 L719.5,628.0 L722.0,625.5 L726.0,621.0 L729.0,622.5 L731.0,619.0 L734.5,619.5 L737.0,616.0 L740.0,614.0 L741.5,611.0 L744.0,613.0 L745.0,606.5 L747.0,606.0 L748.0,611.0 L752.0,608.0 L757.0,607.0 L762.0,603.0 L766.0,601.0 L770.0,599.5 L773.0,596.0 L777.0,595.5 L781.0,591.5 L785.0,591.0 L788.0,588.0 L791.0,588.5 L794.0,583.0 L797.0,583.5 L800.0,579.5 L804.0,578.0 L807.0,574.0 L810.4,571.6 L808.5,569.0 Z" fill="#fff" stroke="#3d3d3d" stroke-width="1.0" stroke-linejoin="round"/>
<path d="M566.5,492.5 L623.5,543.5 L638.5,577 L697,630.5 L700,629.9 L641.5,575.2 L625.9,540 L568.8,491.6 Z" fill="#e4e4e4" stroke="#3d3d3d" stroke-width="0.9"/>
<path d="M641.5,575.2 L734.2,524.3 L808.5,568.9 L700,629.9 Z" fill="#d8d8d8" stroke="#3d3d3d" stroke-width="1.1" stroke-linejoin="round"/>
<path d="M625.9,540 L712.5,492.3 L734.2,524.3 L641.5,575.2 Z" fill="#fafafa" stroke="#3d3d3d" stroke-width="1.1" stroke-linejoin="round"/>
<path d="M565,485.2 Q566,480 575,476.3 L600,479 L680.5,472.5 L712.5,492.3 L625.9,540 L568.8,491.6 Q565,488.5 565,485.2 Z" fill="#dcdcdc" stroke="#3d3d3d" stroke-width="1.1" stroke-linejoin="round"/>
<path d="M598.5,456.0 C597.2,458.2 597.0,457.8 594.6,462.5 C592.2,467.2 592.8,465.2 591.3,470.0 C589.8,474.8 590.5,472.7 590.2,477.0 C589.9,481.3 589.9,479.0 590.4,483.0 C590.9,487.0 589.2,484.2 591.6,489.0 C594.0,493.8 592.4,492.4 597.5,497.5 C602.6,502.6 599.7,500.3 606.9,504.3 C614.1,508.3 610.5,506.5 619.0,509.5 C627.5,512.5 624.0,511.7 632.3,513.2 C640.6,514.7 636.4,514.4 644.0,514.0 C651.6,513.6 648.5,514.1 655.0,511.9 C661.5,509.7 658.4,510.9 663.5,507.5 C668.6,504.1 666.6,505.7 670.4,501.7 C674.2,497.7 672.6,499.7 675.0,495.5 C677.4,491.3 676.5,493.5 677.5,489.0 C678.5,484.5 678.3,486.7 678.0,482.0 C677.7,477.3 677.1,477.3 676.7,475.0 L640,455 Z" fill="#b3b3b3" stroke="#3d3d3d" stroke-width="1.1"/>
<path d="M592.5,468.0 C592.5,470.3 591.7,470.3 592.5,475.0 C593.3,479.7 591.8,477.0 595.0,482.0 C598.2,487.0 596.3,485.3 602.0,490.0 C607.7,494.7 604.3,492.5 612.0,496.0 C619.7,499.5 616.3,498.3 625.0,500.5 C633.7,502.7 629.7,502.2 638.0,502.5 C646.3,502.8 642.7,503.0 650.0,501.5 C657.3,500.0 654.0,501.2 660.0,498.0 C666.0,494.8 663.3,496.3 668.0,492.0 C672.7,487.7 671.0,489.7 674.0,485.0 C677.0,480.3 676.0,480.3 677.0,478.0 L676,470 L640,455 L600,455 Z" fill="#c0c0c0" stroke="#3d3d3d" stroke-width="1.1"/>
<path d="M611.0,470.5 C611.0,472.0 610.2,471.8 611.0,475.0 C611.8,478.2 610.5,476.8 613.5,480.0 C616.5,483.2 614.8,481.9 620.0,484.5 C625.2,487.1 623.0,486.3 629.0,487.8 C635.0,489.3 632.2,488.8 638.0,489.0 C643.8,489.2 641.5,489.5 646.5,488.5 C651.5,487.5 649.0,488.3 653.0,486.0 C657.0,483.7 656.2,484.2 658.5,481.5 C660.8,478.8 659.7,480.2 660.0,478.0 C660.3,475.8 659.7,476.0 659.5,475.0 L640,462 Z" fill="#bababa" stroke="#3d3d3d" stroke-width="1.1"/>
<path d="M526,396 L528.4,397.8 L544,407 L555.8,415.4 L561,417.3 L563,421.25 L566.8,420.6 L570,423.9 L576.6,427.8 L584.4,433 L594.2,436.2 L585.7,429 L557,407 L537.5,392 L526,392 Z" fill="#ececec"/>
<path d="M537.5,392 L557,407 L585.7,429 L594.2,436.2 L611.75,430.4 L596,420 L570,407 L544,392 Z" fill="url(#g4arm)"/>
<path d="M526.0,396.0 L528.4,397.8 L536.0,402.5 L544.0,407.0 L550.0,411.0 L555.8,415.4 L561.0,417.3 L562.0,420.0 L563.5,421.5 L566.8,420.6 L570.0,423.9 L576.6,427.8 L584.4,433.0" fill="none" stroke="#3d3d3d" stroke-width="1.0" stroke-linejoin="round"/>
<path d="M584.4,433 Q585,438 586.4,442 Q588,447.5 591,451.2 Q594,455 598.7,457.7 L614.4,469.4 L616,468 L619,437.9 L611.75,430.4 L594.2,436.2 Z" fill="url(#g4lp)"/>
<path d="M584.4,433 Q585,438 586.4,442 Q588,447.5 591,451.2 Q594,455 598.7,457.7 L614.4,469.4" fill="none" stroke="#3d3d3d" stroke-width="1.1" stroke-linejoin="round"/>
<path d="M537.5,392 L557,407 L585.7,429 L594.2,436.2" fill="none" stroke="#3d3d3d" stroke-width="1.0"/>
<path d="M544,391 L570,407 L596,420 L611.75,430.4 Q617.3,434 618.3,438.2 L615.5,466.5 C616.9,468.1 614.1,468.3 619.6,471.3 C625.1,474.3 623.5,473.4 632.0,475.5 C640.5,477.6 636.3,477.2 645.0,477.6 C653.7,478.0 649.5,478.1 658.0,476.8 C666.5,475.5 663.1,476.2 670.4,473.8 C677.7,471.4 674.1,472.9 680.0,469.5 C685.9,466.1 683.8,467.9 688.0,463.6 C692.2,459.3 689.9,461.6 692.5,456.5 C695.1,451.4 694.7,451.1 695.8,448.4 L700,420 L703.4,391 Z" fill="url(#g4body)" stroke="#3d3d3d" stroke-width="1.1"/>
<path d="M593.2,622.8 L611.75,595.5 L618.6,603.3 C625.6,602.7 627.7,603.0 639.5,601.6 C651.3,600.2 644.2,601.0 654.0,599.0 C663.8,597.0 658.8,598.4 668.8,595.7 C678.8,593.0 674.3,594.2 684.0,591.0 C693.7,587.8 689.3,589.3 698.0,586.0 C706.7,582.7 702.1,584.6 710.0,581.0 C717.9,577.4 713.6,579.9 721.6,575.2 C729.6,570.5 726.2,572.5 734.0,567.0 C741.8,561.5 738.7,563.9 745.0,558.6 C751.3,553.3 747.8,556.2 753.0,551.0 C758.2,545.8 756.3,548.5 760.6,543.0 C764.9,537.5 762.7,540.4 766.0,534.5 C769.3,528.6 768.1,530.6 770.4,525.4 C772.7,520.2 771.7,522.9 773.0,519.0 C774.3,515.1 773.9,515.5 774.3,513.7 L764.5,513.5 L783,485.6 L797.7,514.6 L788,514.6 C787.7,517.1 788.0,517.1 787.0,522.0 C786.0,526.9 786.8,523.6 785.0,529.3 C783.2,535.0 784.4,532.5 781.5,539.0 C778.6,545.5 781.1,542.1 776.2,548.8 C771.4,555.5 773.5,552.5 767.0,559.0 C760.5,565.5 763.4,562.9 756.7,568.4 C750.0,573.9 753.5,571.0 747.0,575.5 C740.5,580.0 745.5,577.3 737.2,582.0 C728.9,586.7 731.8,584.9 722.0,589.5 C712.2,594.1 717.6,591.9 707.9,595.7 C698.2,599.5 702.8,597.7 693.0,601.0 C683.2,604.3 688.3,602.7 678.6,605.5 C668.9,608.3 673.8,607.0 664.0,609.3 C654.2,611.6 659.6,610.4 649.3,612.3 C639.0,614.2 638.6,614.1 633.2,615.0 L642,622.8 Z" fill="url(#g4c)" stroke="#7a1010" stroke-width="0.9"/>
<path d="M822.4,581.5 L869.3,606.9 L883.8,601.0 L872.6,621.0 L837.5,620.2 L851.0,614.3 L805.2,589.0 Z" fill="url(#g4a)" stroke="#9a1a16" stroke-width="0.5"/>
<path d="M731.6,633.2 L783.8,661.2 L798.8,655.1 L787.0,676.6 L748.6,675.6 L763.2,668.4 L713.0,640.7 Z" fill="url(#g4b)" stroke="#9a1a16" stroke-width="0.5"/>
<text x="547.25" y="752.0" font-family="Liberation Sans, sans-serif" font-weight="bold" font-size="30.8" fill="#5f5f5f" textLength="319.30" lengthAdjust="spacingAndGlyphs">SCRAPING / ZDRAPYWANIE</text></g>
<rect x="520.4" y="392.8" width="370.3" height="374.0" rx="16" ry="16" fill="none" stroke="#454545" stroke-width="1.45"/>
</svg>
</body></html>
